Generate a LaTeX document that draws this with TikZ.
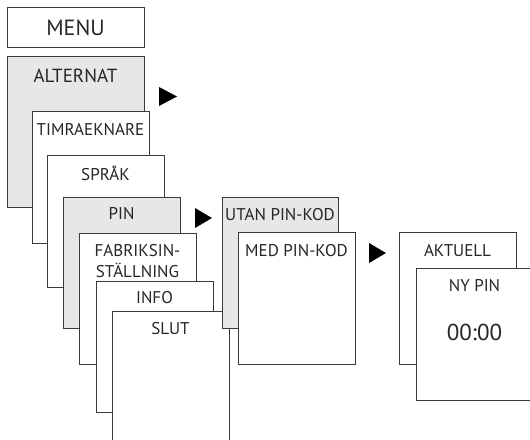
\documentclass[tikz,border=0pt]{standalone}
\usepackage{fontspec}
\setmainfont{PT Sans}
\definecolor{boxgray}{HTML}{E6E7E8}
\definecolor{edge}{HTML}{3A3A3A}
\tikzset{
  menubox/.style={draw=edge, line width=1pt, fill=white},
  graybox/.style={draw=edge, line width=1pt, fill=boxgray},
  lbl/.style={anchor=base, inner sep=0pt, font=\fontsize{17}{21}\selectfont, text=black!85},
  arrowtri/.style={fill=black, draw=none},
}
\begin{document}
\begin{tikzpicture}[x=1pt,y=-1pt]
\useasboundingbox (0,0) rectangle (530,439);
\clip (0,0) rectangle (530,439);
% MENU
\draw[menubox] (7,7) rectangle (144,47);
\node[lbl, font=\fontsize{22}{24}\selectfont] (menu) at (75.5,35) {MENU};
% ALTERNAT
\draw[graybox] (7,56) rectangle (144,207);
\node[lbl, font=\fontsize{19}{22}\selectfont] (alternat) at (75.5,82) {ALTERNAT};
% TIMRAEKNARE
\draw[menubox] (32,111) rectangle (149,243);
\node[lbl] (timr) at (90.5,135) {TIMRAEKNARE};
% SPRAK
\draw[menubox] (47,155) rectangle (164,287);
\node[lbl] (sprak) at (105.5,180) {SPRÅK};
% PIN
\draw[graybox] (63,197) rectangle (180,328);
\node[lbl] (pin) at (121.5,219) {PIN};
% FABRIK
\draw[menubox] (79,233) rectangle (196,364);
\node[lbl] (fabrik1) at (137.5,256) {FABRIKSIN-};
\node[lbl] (fabrik2) at (137.5,277) {STÄLLNING};
% INFO
\draw[menubox] (96,281) rectangle (213,412);
\node[lbl] (info) at (154.5,303) {INFO};
% SLUT
\draw[menubox] (112,311) rectangle (229,460);
\node[lbl] (slut) at (170.5,334) {SLUT};
% UTAN
\draw[graybox] (222,197) rectangle (338,328);
\node[lbl] (utan) at (280,220) {UTAN PIN-KOD};
% MED
\draw[menubox] (238,232) rectangle (355,364);
\node[lbl] (med) at (296.5,256) {MED PIN-KOD};
% AKTUELL
\draw[menubox] (399,232) rectangle (516,364);
\node[lbl] (akt) at (457.5,256) {AKTUELL};
% NY PIN
\draw[menubox] (416,268) rectangle (533,400);
\node[lbl] (nypin) at (474.5,291) {NY PIN};
\node[lbl, font=\fontsize{23}{26}\selectfont] (time) at (474.5,340) {00:00};
% arrows
\fill[arrowtri] (159,87) -- (177,96.5) -- (159,106) -- cycle;
\fill[arrowtri] (195,208) -- (212,218) -- (195,228) -- cycle;
\fill[arrowtri] (369,243) -- (386,253) -- (369,263) -- cycle;
\end{tikzpicture}
\end{document}
